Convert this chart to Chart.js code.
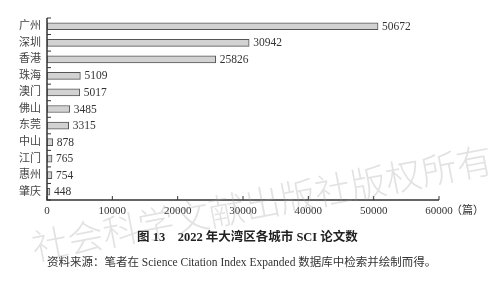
<!DOCTYPE html>
<html>
<head>
<meta charset="utf-8">
<script src="https://cdn.jsdelivr.net/npm/chart.js@4/dist/chart.umd.min.js"></script>
<style>
  html, body { margin: 0; padding: 0; background: #fff; }
  #wrap { width: 500px; height: 284px; }
</style>
</head>
<body>
<div id="wrap"><canvas id="sciChart" width="500" height="284"></canvas></div>
<script>
const cities = ["广州", "深圳", "香港", "珠海", "澳门", "佛山", "东莞", "中山", "江门", "惠州", "肇庆"];
const papers = [50672, 30942, 25826, 5109, 5017, 3485, 3315, 878, 765, 754, 448];
const xTicks = [0, 10000, 20000, 30000, 40000, 50000, 60000];

const serif = "'Liberation Serif', 'Noto Sans CJK SC', serif";
const cjk = "'Noto Sans CJK SC', 'Liberation Serif', sans-serif";

// axis lines, inward ticks, value labels, caption, watermark
const decor = {
    id: "decor",
    afterDraw(chart) {
        const c = chart.ctx;
        const xs = chart.scales.x;
        const ys = chart.scales.y;
        const area = chart.chartArea;
        c.save();
        c.strokeStyle = "#333";
        c.lineWidth = 1.5;
        c.beginPath();
        c.moveTo(area.left, area.top);
        c.lineTo(area.left, area.bottom);
        c.lineTo(area.right, area.bottom);
        c.stroke();

        // y ticks between categories
        c.lineWidth = 1;
        for (let i = 0; i <= cities.length; i++) {
            const y = ys.getPixelForValue(i - 0.5);
            c.beginPath();
            c.moveTo(area.left, y);
            c.lineTo(area.left + 4, y);
            c.stroke();
        }
        // x ticks pointing up
        xTicks.forEach(v => {
            const x = xs.getPixelForValue(v);
            c.beginPath();
            c.moveTo(x, area.bottom);
            c.lineTo(x, area.bottom - 4);
            c.stroke();
        });

        // value labels
        c.fillStyle = "#333";
        c.font = "11.5px " + serif;
        c.textBaseline = "middle";
        c.textAlign = "left";
        const meta = chart.getDatasetMeta(0);
        meta.data.forEach((bar, i) => {
            c.fillText(String(papers[i]), bar.x + 4, bar.y + 0.5);
        });

        // unit
        c.font = "11px " + serif;
        const lastX = xs.getPixelForValue(60000);
        c.fillText("（篇）", lastX + 12, area.bottom + 11);

        // caption
        c.fillStyle = "#222";
        c.font = "bold 12.5px " + serif;
        c.fillText("图 13　2022 年大湾区各城市 SCI 论文数", 137, 238);
        c.fillStyle = "#333";
        c.font = "11.5px " + serif;
        c.fillText("资料来源：笔者在 Science Citation Index Expanded 数据库中检索并绘制而得。", 47, 263);

        // watermark
        c.translate(262, 203);
        c.rotate(-0.19);
        c.font = "300 36px " + cjk;
        c.textAlign = "center";
        c.fillStyle = "rgba(160,160,160,0.3)";
        c.fillText("社会科学文献出版社版权所有", 0, 0);
        c.restore();
    }
};

const ctx = document.getElementById("sciChart").getContext("2d");
const sciChart = new Chart(ctx, {
    type: "bar",
    data: {
        labels: cities,
        datasets: [{
            data: papers,
            backgroundColor: "#d2d2d2",
            borderColor: "#555",
            borderWidth: 1,
            borderSkipped: false,
            barThickness: 7
        }]
    },
    options: {
        indexAxis: "y",
        responsive: false,
        animation: false,
        layout: { padding: { top: 18, right: 61, left: 0, bottom: 0 } },
        plugins: { legend: { display: false }, tooltip: { enabled: false } },
        scales: {
            x: {
                min: 0,
                max: 60000,
                afterBuildTicks: s => { s.ticks = xTicks.map(v => ({ value: v })); },
                afterFit: s => { s.height = 84; },
                grid: { display: false, drawTicks: false },
                border: { display: false },
                ticks: {
                    color: "#333",
                    font: { family: serif, size: 11 },
                    padding: 5,
                    maxRotation: 0,
                    callback: v => String(v)
                }
            },
            y: {
                afterFit: s => { s.width = 47; },
                grid: { display: false, drawTicks: false },
                border: { display: false },
                ticks: {
                    color: "#444",
                    font: { family: serif, size: 11 },
                    padding: 6,
                    autoSkip: false
                }
            }
        }
    },
    plugins: [decor]
});
</script>
</body>
</html>
